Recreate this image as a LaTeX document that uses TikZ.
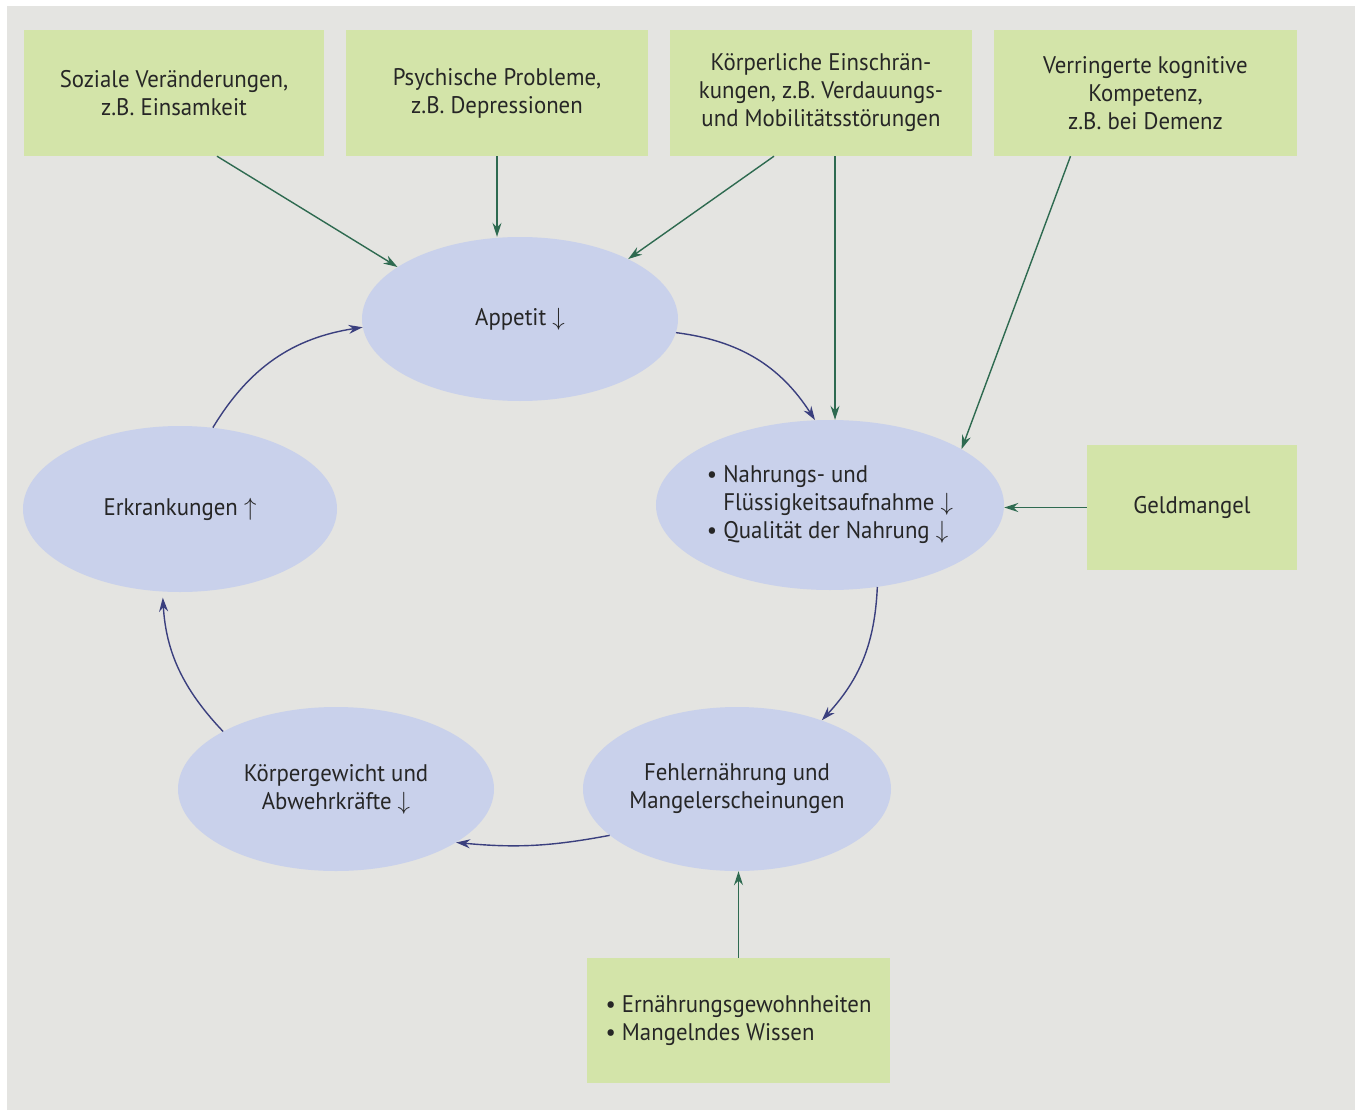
\documentclass[tikz,border=0pt]{standalone}
\usepackage{fontspec}
\setmainfont[FakeStretch=0.95]{PT Sans}
\usetikzlibrary{shapes.geometric,arrows.meta}
\definecolor{pagebg}{HTML}{E4E4E1}
\definecolor{boxgreen}{HTML}{D3E4A9}
\definecolor{ellblue}{HTML}{C9D1EB}
\definecolor{arrgreen}{HTML}{2E6A50}
\definecolor{arrblue}{HTML}{3A3F7E}
\definecolor{txt}{HTML}{262626}
\begin{document}
\begin{tikzpicture}[x=1pt,y=-1pt,
  lbl/.style={text=txt, font=\fontsize{24}{28}\selectfont},
  box/.style={lbl, rectangle, fill=boxgreen, inner sep=0pt, align=center},
  ell/.style={lbl, ellipse, fill=ellblue, inner sep=0pt, align=center},
  garr/.style={draw=arrgreen, line width=1.4pt, -{Stealth[length=14pt,width=9pt]}},
  barr/.style={draw=arrblue, line width=1.4pt, -{Stealth[length=14pt,width=9pt]}}]
\fill[white] (0,0) rectangle (1362,1110);
\fill[pagebg] (7,6) rectangle (1355,1110);
% boxes
\node[box, minimum width=300pt, minimum height=126pt] (b1) at (174,93) {Soziale Veränderungen,\\z.B. Einsamkeit};
\node[box, minimum width=302pt, minimum height=126pt] (b2) at (497,93) {Psychische Probleme,\\z.B. Depressionen};
\node[box, minimum width=302pt, minimum height=126pt] (b3) at (821,93) {Körperliche Einschrän-\\kungen, z.B. Verdauungs-\\und Mobilitätsstörungen};
\node[box, minimum width=303pt, minimum height=126pt] (b4) at (1145.5,93) {Verringerte kognitive\\Kompetenz,\\z.B. bei Demenz};
\node[box, minimum width=210pt, minimum height=125pt] (geld) at (1192,507.5) {Geldmangel};
\node[box, minimum width=303pt, minimum height=125pt, align=left] (ern) at (738.5,1020.5) {\textbullet\ Ernährungsgewohnheiten\\\textbullet\ Mangelndes Wissen};
% ellipses
\node[ell, minimum width=316pt, minimum height=164pt] (app) at (520,319) {Appetit $\downarrow$};
\node[ell, minimum width=318pt, minimum height=170pt, align=left] (nahr) at (830,505) {\textbullet\ Nahrungs- und\\\hphantom{\textbullet\ }Flüssigkeitsaufnahme $\downarrow$\\\textbullet\ Qualität der Nahrung $\downarrow$};
\node[ell, minimum width=308pt, minimum height=164pt] (fehl) at (737,789) {Fehlernährung und\\Mangelerscheinungen};
\node[ell, minimum width=316pt, minimum height=164pt] (koer) at (336,789) {Körpergewicht und\\Abwehrkräfte $\downarrow$};
\node[ell, minimum width=314pt, minimum height=166pt] (erk) at (180,509) {Erkrankungen $\uparrow$};
% green arrows
\draw[garr] ([xshift=43pt]b1.south) -- (app.157);
\draw[garr] (b2.south) -- (b2.south |- app.north);
\draw[garr] ([xshift=-47pt]b3.south) -- (app.29);
\draw[garr] ([xshift=14pt]b3.south) -- ([xshift=14pt]b3.south |- nahr.north);
\draw[garr] ([xshift=-75pt]b4.south) -- (nahr.23);
\draw[garr] (geld.west) -- (geld.west -| nahr.east);
\draw[garr] (ern.north) -- (ern.north |- fehl.south);
% blue cycle
\draw[barr] (app.-5) to[bend left=25] (nahr.100);
\draw[barr] (nahr.-60) to[bend left=20] (fehl.39);
\draw[barr] (fehl.200) to[bend left=8] (koer.-24);
\draw[barr, shorten >=6pt] (koer.153) to[bend left=20] (erk.258);
\draw[barr] (erk.68) to[bend left=25] (app.183);
\end{tikzpicture}
\end{document}
